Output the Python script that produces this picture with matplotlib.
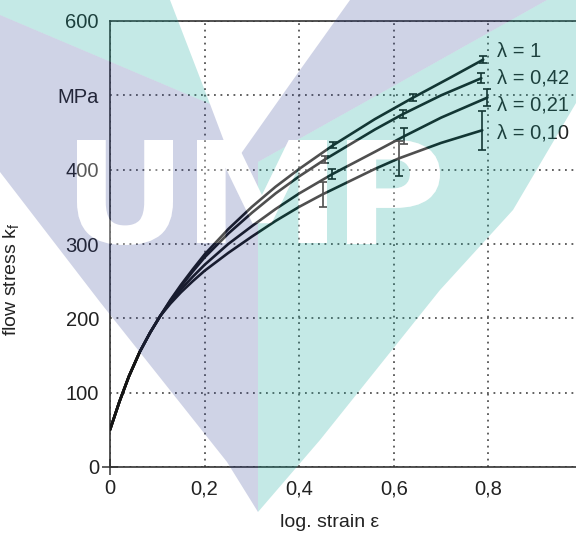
import numpy as np
import matplotlib
matplotlib.use('Agg')
import matplotlib.pyplot as plt
from matplotlib.path import Path
from matplotlib.patches import PathPatch, Polygon
from matplotlib.textpath import TextPath
from matplotlib.font_manager import FontProperties

plt.rcParams['font.family'] = ['Liberation Sans', 'DejaVu Sans']

# flow curves: log. strain / flow stress in MPa
labels = ['λ = 1', 'λ = 0,42', 'λ = 0,21', 'λ = 0,10']

eps_1 = [0, 0.02, 0.04, 0.063, 0.085, 0.106, 0.128, 0.15, 0.175, 0.2, 0.25, 0.3, 0.35, 0.4, 0.472, 0.56, 0.641, 0.72, 0.789]
kf_1 = [50, 88, 122, 155, 181, 203, 225, 245, 266, 286, 320, 350, 377, 401, 433, 468, 497, 524, 548]
eps_042 = [0, 0.02, 0.04, 0.063, 0.085, 0.106, 0.128, 0.15, 0.175, 0.2, 0.25, 0.3, 0.35, 0.4, 0.455, 0.56, 0.62, 0.7, 0.785]
kf_042 = [50, 88, 122, 155, 181, 203, 224, 243, 263, 282, 314, 342, 368, 391, 414, 454, 475, 500, 523]
eps_021 = [0, 0.02, 0.04, 0.063, 0.085, 0.106, 0.128, 0.15, 0.175, 0.2, 0.25, 0.3, 0.35, 0.4, 0.47, 0.56, 0.622, 0.7, 0.798]
kf_021 = [50, 88, 122, 155, 181, 203, 222, 239, 256, 272, 300, 324, 347, 368, 394, 424, 445, 470, 497]
eps_010 = [0, 0.02, 0.04, 0.063, 0.085, 0.106, 0.128, 0.15, 0.175, 0.2, 0.25, 0.3, 0.35, 0.4, 0.45, 0.56, 0.61, 0.7, 0.787]
kf_010 = [50, 88, 122, 155, 181, 203, 220, 235, 250, 264, 288, 310, 331, 350, 367, 401, 415, 436, 453]

# scatter bands (error bars)
err_eps_1 = [0.472, 0.641, 0.789]
err_kf_1 = [433, 497, 548]
err_1 = [4, 5, 5]
err_eps_042 = [0.455, 0.62, 0.785]
err_kf_042 = [414, 475, 523]
err_042 = [5, 5, 7]
err_eps_021 = [0.47, 0.622, 0.798]
err_kf_021 = [394, 445, 497]
err_021 = [7, 11, 11]
err_eps_010 = [0.45, 0.61, 0.787]
err_kf_010 = [367, 415, 453]
err_010 = [17, 23, 26]

curves = [(eps_1, kf_1), (eps_042, kf_042), (eps_021, kf_021), (eps_010, kf_010)]
bars = [(err_eps_1, err_kf_1, err_1), (err_eps_042, err_kf_042, err_042),
        (err_eps_021, err_kf_021, err_021), (err_eps_010, err_kf_010, err_010)]
label_dy = [11, 0, -10, -4]

x_ticks = [0, 0.2, 0.4, 0.6, 0.8, 1.0]
x_ticklabels = ['0', '0,2', '0,4', '0,6', '0,8', '1']
y_ticks = [0, 100, 200, 300, 400, 500, 600]
y_ticklabels = ['0', '100', '200', '300', '400', 'MPa', '600']

fig = plt.figure(figsize=(5.76, 5.35), dpi=100)
ax = fig.add_axes([110 / 576, 68 / 535, 473 / 576, 446 / 535])

line_col = '#151515'
for (x, y), (ex, ey, ee), lab, dy in zip(curves, bars, labels, label_dy):
    ax.plot(x, y, color=line_col, lw=1.9, solid_capstyle='round', solid_joinstyle='round', zorder=3)
    ax.errorbar(ex, ey, yerr=ee, fmt='none', ecolor=line_col, elinewidth=1.2,
                capsize=3, capthick=1.2, zorder=4)
    ax.text(0.818, y[-1] + dy, lab, fontsize=14.5, va='center', ha='left', color='#222')

ax.set_xlim(0, 1)
ax.set_ylim(0, 600)
ax.set_xticks(x_ticks)
ax.set_xticklabels(x_ticklabels)
ax.set_yticks(y_ticks)
ax.set_yticklabels(y_ticklabels)
ax.tick_params(axis='both', direction='inout', length=12, width=1.1, colors='#333',
               labelsize=14.5, labelcolor='#222')
ax.tick_params(axis='y', pad=2)
ax.tick_params(axis='x', pad=3)
for t in ax.xaxis.get_major_ticks()[1:]:
    t.tick1line.set_visible(False)
for t in ax.yaxis.get_major_ticks()[1:]:
    t.tick1line.set_visible(False)

ax.grid(True, linestyle=(0, (1, 2.6)), linewidth=1.3, color='#555')
ax.spines['right'].set_visible(False)
for s in ['left', 'bottom', 'top']:
    ax.spines[s].set_color('#333')
    ax.spines[s].set_linewidth(1.2)

ax.set_xlabel('log. strain ε', fontsize=14, color='#222')
ax.xaxis.set_label_coords(0.465, -0.105)
ax.set_ylabel('flow stress k$_\\mathregular{f}$', fontsize=14, color='#222')
ax.yaxis.set_label_coords(-0.186, 0.42)

# watermark laid over the whole picture (pixel coordinates)
ov = fig.add_axes([0, 0, 1, 1], zorder=10)
ov.set_xlim(0, 576)
ov.set_ylim(535, 0)
ov.set_axis_off()


def letter_path(ch, x0, y0, x1, y1):
    tp = TextPath((0, 0), ch, size=100, prop=FontProperties(family='DejaVu Sans', weight='bold'))
    ext = tp.get_extents()
    v = tp.vertices.copy()
    v[:, 0] = x0 + (v[:, 0] - ext.x0) * (x1 - x0) / ext.width
    v[:, 1] = y1 - (v[:, 1] - ext.y0) * (y1 - y0) / ext.height
    return Path(v, tp.codes)


letters = [letter_path('U', 77, 140, 173, 245),
           letter_path('M', 197, 140, 327, 243),
           letter_path('P', 347, 140, 440, 244)]

p0 = letters[0].to_polygons()[0]
area = 0.5 * np.sum(p0[:-1, 0] * p0[1:, 1] - p0[1:, 0] * p0[:-1, 1])
rect = [(0, 0), (576, 0), (576, 535), (0, 535), (0, 0)]
if area > 0:
    rect = rect[::-1]
rect_path = Path(rect, [Path.MOVETO, Path.LINETO, Path.LINETO, Path.LINETO, Path.CLOSEPOLY])
hole = PathPatch(Path.make_compound_path(rect_path, *letters), transform=ov.transData)

teal_tl = [(0, 0), (170, 0), (210, 104), (0, 15)]
purple = [(0, 15), (210, 104), (233, 165), (300, 70), (350, 0), (547, 0), (258, 162),
          (258, 512), (227, 462), (100, 302), (0, 172)]
teal_r = [(547, 0), (576, 0), (576, 103), (513, 210), (440, 290), (320, 440),
          (258, 512), (258, 162)]

for pts, col, a in [(teal_tl, '#0ba397', 0.24), (purple, '#27378f', 0.22), (teal_r, '#0ba397', 0.24)]:
    pg = Polygon(pts, closed=True, facecolor=col, edgecolor='none', alpha=a)
    ov.add_patch(pg)
    pg.set_clip_path(hole)

for lp in letters:
    ov.add_patch(PathPatch(lp, facecolor='white', edgecolor='none', alpha=0.25))

fig.savefig('out.png', dpi=100)
